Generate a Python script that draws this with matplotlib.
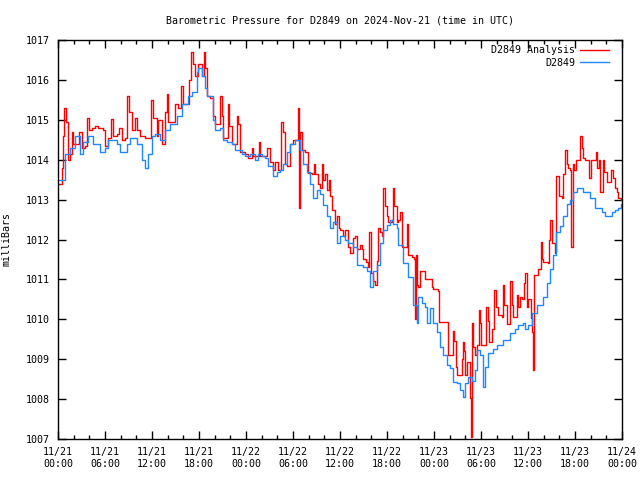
import numpy as np
import matplotlib.pyplot as plt
from matplotlib.ticker import MultipleLocator

# Time in hours since 2024-11-21 00:00 UTC, pressure in mbar
obs_hours = [0.0, 0.4, 0.9, 1.5, 2.2, 2.8, 3.2, 3.8, 4.5, 5.0, 5.4, 6.0, 6.4, 7.5, 7.9, 8.8,
             9.2, 10.1, 10.7, 11.1, 11.5, 12.0, 12.4, 13.0, 13.7, 14.3, 15.2, 15.8, 16.6, 17.1,
             17.7, 17.9, 18.4, 18.8, 19.0, 19.4, 19.8, 20.0, 20.7, 21.1, 21.6, 22.2, 22.6, 23.5,
             23.9, 24.5, 25.1, 25.5, 26.0, 26.4, 26.8, 27.4, 28.0, 28.3, 28.7, 29.2, 29.6, 30.3,
             30.9, 31.3, 31.8, 32.2, 32.6, 33.1, 33.4, 33.8, 34.3, 34.7, 35.1, 35.6, 36.0, 36.6,
             37.0, 37.7, 38.2, 38.9, 39.4, 39.8, 40.2, 40.7, 41.1, 41.5, 42.0, 42.4, 42.8, 43.3,
             43.4, 44.0, 44.7, 44.9, 45.3, 45.8, 46.0, 46.5, 46.9, 47.1, 47.5, 47.9, 48.4, 48.8,
             49.1, 49.7, 50.0, 50.4, 50.9, 51.3, 51.7, 52.0, 52.3, 52.9, 53.2, 53.5, 53.9, 54.3,
             54.5, 54.9, 55.5, 56.0, 56.8, 57.3, 57.7, 58.3, 58.7, 59.4, 59.6, 60.0, 60.5, 61.1,
             61.5, 61.9, 62.4, 62.8, 63.2, 63.6, 64.1, 64.5, 65.0, 65.4, 65.7, 66.3, 66.6, 67.0,
             67.5, 67.9, 68.6, 68.9, 69.4, 69.8, 70.2, 70.7, 71.1, 71.5, 71.9, 72.0]
obs_mbar = [1013.5, 1013.5, 1014.15, 1014.3, 1014.6, 1014.15, 1014.45, 1014.6, 1014.4, 1014.4,
            1014.2, 1014.3, 1014.5, 1014.4, 1014.2, 1014.4, 1014.55, 1014.4, 1013.98, 1013.8,
            1014.15, 1014.6, 1014.65, 1014.5, 1014.75, 1014.9, 1015.1, 1015.4, 1015.6, 1015.7,
            1016.2, 1016.3, 1016.1, 1015.8, 1015.6, 1015.6, 1015.0, 1014.75, 1014.8, 1014.5,
            1014.45, 1014.4, 1014.25, 1014.15, 1014.1, 1014.15, 1014.0, 1014.15, 1014.1, 1014.05,
            1013.85, 1013.6, 1013.7, 1013.75, 1013.9, 1014.2, 1014.4, 1014.5, 1014.25, 1013.9,
            1013.7, 1013.4, 1013.04, 1013.24, 1013.15, 1012.86, 1012.6, 1012.3, 1012.45, 1011.9,
            1012.1, 1012.0, 1011.9, 1011.8, 1011.36, 1011.3, 1011.2, 1010.8, 1011.2, 1011.35,
            1011.9, 1012.24, 1012.36, 1012.5, 1012.4, 1012.3, 1011.86, 1011.4, 1011.06, 1011.06,
            1010.36, 1009.9, 1010.56, 1010.4, 1010.3, 1009.9, 1010.28, 1009.9, 1009.68, 1009.3,
            1009.1, 1008.85, 1008.78, 1008.43, 1008.4, 1008.23, 1008.05, 1008.4, 1008.55, 1008.45,
            1008.73, 1009.23, 1009.1, 1008.3, 1008.8, 1009.15, 1009.25, 1009.35, 1009.48, 1009.48,
            1009.65, 1009.75, 1009.86, 1009.9, 1009.75, 1009.85, 1010.16, 1010.35, 1010.35, 1010.56,
            1010.9, 1011.25, 1011.6, 1012.2, 1012.35, 1012.6, 1012.9, 1013.0, 1013.2, 1013.3,
            1013.3, 1013.2, 1013.2, 1013.03, 1012.8, 1012.8, 1012.7, 1012.6, 1012.6, 1012.7,
            1012.75, 1012.8, 1012.9, 1012.9]

ana_hours = [0.0, 0.5, 0.6, 0.8, 1.0, 1.3, 1.5, 1.8, 1.9, 2.4, 2.7, 3.1, 3.4, 3.7, 4.0, 4.3,
             4.7, 5.1, 5.7, 6.0, 6.4, 6.8, 7.0, 7.5, 7.8, 8.2, 8.6, 8.8, 9.1, 9.4, 9.8, 10.1,
             10.5, 11.1, 11.5, 11.9, 12.1, 12.6, 12.8, 13.3, 13.7, 13.9, 14.0, 14.6, 14.9, 15.3,
             15.7, 16.0, 16.6, 16.7, 17.0, 17.2, 17.5, 17.9, 18.4, 18.6, 18.8, 19.0, 19.4, 19.8,
             20.0, 20.4, 20.7, 20.9, 21.1, 21.6, 21.7, 21.8, 22.2, 22.6, 22.9, 23.0, 23.2, 23.9,
             24.3, 24.8, 24.9, 25.4, 25.7, 25.8, 26.4, 26.7, 27.1, 27.4, 27.7, 28.1, 28.5, 28.7,
             29.0, 29.2, 29.6, 30.0, 30.5, 30.6, 30.8, 30.9, 31.1, 31.5, 31.8, 31.9, 32.4, 32.7,
             32.8, 33.2, 33.4, 33.7, 33.8, 34.1, 34.3, 34.6, 34.7, 35.0, 35.4, 35.6, 35.9, 36.0,
             36.4, 36.6, 37.0, 37.3, 37.7, 37.9, 38.2, 38.6, 38.8, 38.9, 39.3, 39.6, 39.7, 40.0,
             40.2, 40.5, 40.7, 40.9, 41.1, 41.4, 41.5, 41.7, 42.0, 42.1, 42.6, 42.8, 42.9, 43.3,
             43.4, 43.7, 43.9, 44.3, 44.6, 44.7, 45.2, 45.4, 45.6, 45.7, 45.8, 46.0, 46.2, 46.7,
             46.9, 47.5, 47.7, 47.9, 48.5, 48.6, 49.7, 49.8, 50.3, 50.4, 50.6, 50.8, 50.9, 51.3,
             51.6, 51.7, 51.8, 52.0, 52.2, 52.5, 52.6, 52.7, 52.9, 53.0, 53.2, 53.5, 53.7, 53.9,
             54.0, 54.3, 54.6, 54.9, 55.0, 55.4, 55.7, 55.9, 56.2, 56.7, 56.8, 56.9, 57.3, 57.4,
             57.7, 58.0, 58.1, 58.6, 58.7, 59.0, 59.2, 59.5, 59.6, 59.9, 60.0, 60.4, 60.5, 60.6,
             60.8, 61.1, 61.3, 61.7, 61.8, 61.9, 62.6, 62.7, 62.8, 63.1, 63.4, 63.6, 63.7, 63.9,
             64.3, 64.5, 64.7, 65.0, 65.1, 65.4, 65.5, 65.7, 65.9, 66.1, 66.4, 66.6, 66.9, 67.0,
             67.3, 67.7, 67.8, 68.0, 68.6, 68.7, 68.8, 69.1, 69.2, 69.4, 69.6, 69.7, 70.1, 70.5,
             70.6, 70.8, 71.1, 71.4, 71.5, 71.9, 72.0]
ana_mbar = [1013.4, 1013.8, 1014.6, 1015.3, 1014.95, 1014.0, 1014.15, 1014.7, 1014.4, 1014.4,
            1014.7, 1014.3, 1014.35, 1015.05, 1014.75, 1014.8, 1014.85, 1014.8, 1014.75, 1014.35,
            1014.55, 1015.03, 1014.6, 1014.65, 1014.8, 1014.5, 1014.55, 1015.6, 1015.2, 1014.75,
            1015.05, 1014.75, 1014.6, 1014.55, 1014.55, 1015.5, 1015.05, 1014.6, 1015.0, 1014.4,
            1015.2, 1015.65, 1014.95, 1014.95, 1015.4, 1015.3, 1015.85, 1015.4, 1015.4, 1016.0,
            1016.7, 1016.4, 1016.1, 1016.4, 1016.1, 1016.7, 1016.3, 1015.6, 1015.55, 1015.1,
            1014.9, 1014.9, 1015.6, 1015.1, 1014.55, 1014.55, 1015.4, 1014.85, 1014.4, 1014.4,
            1015.1, 1014.9, 1014.2, 1014.15, 1014.05, 1014.3, 1014.1, 1014.1, 1014.45, 1014.1,
            1014.1, 1014.3, 1013.95, 1013.75, 1013.95, 1013.75, 1014.95, 1014.7, 1013.9, 1013.85,
            1014.4, 1014.5, 1014.5, 1015.3, 1012.8, 1014.7, 1014.25, 1014.2, 1014.2, 1013.67,
            1013.65, 1013.9, 1013.65, 1013.4, 1013.3, 1013.9, 1013.5, 1013.65, 1013.24, 1013.5,
            1013.1, 1012.74, 1012.4, 1012.6, 1012.3, 1012.24, 1012.1, 1012.24, 1011.8, 1011.66,
            1012.05, 1012.1, 1011.75, 1011.85, 1011.75, 1011.5, 1011.44, 1011.3, 1012.2, 1011.15,
            1010.95, 1010.86, 1011.45, 1012.3, 1012.2, 1012.1, 1013.3, 1012.85, 1012.6, 1012.45,
            1012.5, 1013.3, 1012.85, 1012.45, 1012.5, 1012.7, 1011.8, 1011.8, 1012.4, 1011.6,
            1011.55, 1011.5, 1010.0, 1011.6, 1010.86, 1010.8, 1011.2, 1011.2, 1011.0, 1011.0,
            1010.8, 1010.75, 1010.7, 1009.93, 1009.93, 1009.1, 1009.1, 1009.7, 1009.45, 1008.8,
            1008.6, 1008.6, 1009.0, 1009.43, 1009.2, 1008.6, 1008.93, 1008.93, 1008.03, 1007.05,
            1009.9, 1009.3, 1009.1, 1009.35, 1010.23, 1009.9, 1009.35, 1009.35, 1010.3, 1009.95,
            1009.43, 1009.75, 1010.73, 1010.3, 1010.1, 1010.05, 1010.86, 1010.35, 1009.88, 1009.88,
            1010.96, 1010.35, 1010.05, 1010.6, 1010.3, 1010.55, 1010.5, 1010.9, 1011.16, 1010.3,
            1010.5, 1010.03, 1009.68, 1008.73, 1011.1, 1011.1, 1011.25, 1011.94, 1011.5, 1011.44,
            1011.4, 1012.0, 1012.5, 1011.9, 1011.65, 1013.6, 1013.6, 1013.1, 1013.05, 1013.65,
            1014.25, 1013.9, 1013.8, 1013.75, 1011.8, 1013.9, 1013.75, 1014.0, 1014.0, 1014.6,
            1014.3, 1014.05, 1014.0, 1014.0, 1013.55, 1014.0, 1014.0, 1014.2, 1013.8, 1014.0,
            1013.2, 1013.2, 1014.0, 1013.7, 1013.45, 1013.45, 1013.75, 1013.55, 1013.3, 1013.2,
            1013.05, 1013.0, 1013.0]

tick_hours = list(range(0, 73, 6))
tick_labels = ['11/21\n00:00', '11/21\n06:00', '11/21\n12:00', '11/21\n18:00',
               '11/22\n00:00', '11/22\n06:00', '11/22\n12:00', '11/22\n18:00',
               '11/23\n00:00', '11/23\n06:00', '11/23\n12:00', '11/23\n18:00',
               '11/24\n00:00']

plt.rcParams['font.family'] = 'DejaVu Sans Mono'
plt.rcParams['font.size'] = 7.2

fig = plt.figure(figsize=(6.4, 4.8), dpi=100)
ax = fig.add_axes([58/640, 1-439/480, 564/640, 399/480])

ax.step(ana_hours, ana_mbar, where='post', color='#ff0000', lw=1, label='D2849 Analysis')
ax.step(obs_hours, obs_mbar, where='post', color='#1e88ff', lw=1, label='D2849')

ax.set_xlim(0, 72)
ax.set_ylim(1007, 1017)
ax.set_xticks(tick_hours)
ax.set_xticklabels(tick_labels)
ax.xaxis.set_minor_locator(MultipleLocator(2))
ax.yaxis.set_major_locator(MultipleLocator(1))
ax.tick_params(which='both', direction='in', top=True, right=True, width=1)
ax.tick_params(which='major', length=6, pad=6)
ax.tick_params(which='minor', length=3)
for s in ax.spines.values():
    s.set_linewidth(1)

ax.set_ylabel('milliBars', labelpad=10)
ax.set_title('Barometric Pressure for D2849 on 2024-Nov-21 (time in UTC)', fontsize=7.2, pad=12)
ax.legend(loc='upper right', bbox_to_anchor=(1, 1.02), frameon=False, markerfirst=False,
          handlelength=2.9, borderaxespad=0.9, labelspacing=0.25, handletextpad=0.5)

plt.savefig('out.png', dpi=100)
